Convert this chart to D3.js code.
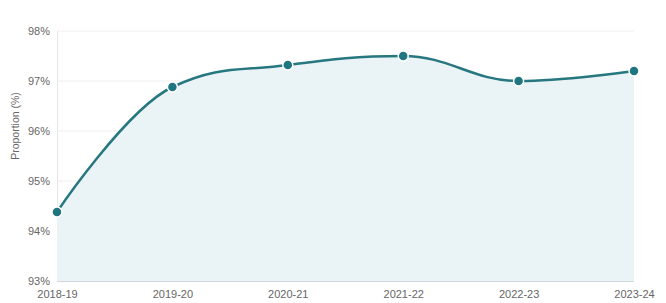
<!DOCTYPE html>
<html>
<head>
<meta charset="utf-8">
<script src="https://cdn.jsdelivr.net/npm/d3@7"></script>
<style>
  body { margin: 0; background: #fff; }
  text { font-family: "Liberation Sans", Arial, sans-serif; }
</style>
</head>
<body>
<div id="chart"></div>
<script>
// data
var years = ["2018-19", "2019-20", "2020-21", "2021-22", "2022-23", "2023-24"];
var proportion = [94.38, 96.88, 97.32, 97.5, 97.0, 97.2];
var yTicks = [93, 94, 95, 96, 97, 98];

var svgWidth = 666;
var svgHeight = 303;

var margin = { top: 31, right: 32, bottom: 22, left: 57 };
var chartWidth = svgWidth - margin.left - margin.right;
var chartHeight = svgHeight - margin.top - margin.bottom;

var svg = d3.select("#chart")
  .append("svg")
  .attr("width", svgWidth)
  .attr("height", svgHeight);

var chartGroup = svg.append("g")
  .attr("transform", `translate(${margin.left}, ${margin.top})`);

var xScale = d3.scalePoint()
  .domain(years)
  .range([0, chartWidth]);

var yScale = d3.scaleLinear()
  .domain([93, 98])
  .range([chartHeight, 0]);

// spline path (same smoothing as the original chart's spline)
function splinePath(pts) {
  var smooth = 1.5, denom = smooth + 1;
  var ctrl = pts.map(function(p, i) {
    var prev = pts[i - 1], next = pts[i + 1];
    if (!prev || !next) return null;
    var lx = (smooth * p[0] + prev[0]) / denom, ly = (smooth * p[1] + prev[1]) / denom;
    var rx = (smooth * p[0] + next[0]) / denom, ry = (smooth * p[1] + next[1]) / denom;
    if (rx !== lx) {
      var corr = ((ry - ly) * (rx - p[0])) / (rx - lx) + p[1] - ry;
      ly += corr; ry += corr;
    }
    if (ly > prev[1] && ly > p[1]) { ly = Math.max(prev[1], p[1]); ry = 2 * p[1] - ly; }
    else if (ly < prev[1] && ly < p[1]) { ly = Math.min(prev[1], p[1]); ry = 2 * p[1] - ly; }
    if (ry > next[1] && ry > p[1]) { ry = Math.max(next[1], p[1]); ly = 2 * p[1] - ry; }
    else if (ry < next[1] && ry < p[1]) { ry = Math.min(next[1], p[1]); ly = 2 * p[1] - ry; }
    return { lx: lx, ly: ly, rx: rx, ry: ry };
  });
  var path = d3.path();
  path.moveTo(pts[0][0], pts[0][1]);
  for (var i = 1; i < pts.length; i++) {
    var a = ctrl[i - 1], b = ctrl[i];
    var c1x = a ? a.rx : pts[i - 1][0], c1y = a ? a.ry : pts[i - 1][1];
    var c2x = b ? b.lx : pts[i][0], c2y = b ? b.ly : pts[i][1];
    path.bezierCurveTo(c1x, c1y, c2x, c2y, pts[i][0], pts[i][1]);
  }
  return path.toString();
}

var points = proportion.map((d, i) => [xScale(years[i]), yScale(d)]);
var linePath = splinePath(points);

// gridlines
chartGroup.append("g")
  .selectAll("line")
  .data(yTicks)
  .enter()
  .append("line")
  .attr("x1", 0)
  .attr("x2", chartWidth)
  .attr("y1", d => yScale(d))
  .attr("y2", d => yScale(d))
  .style("stroke", "#eeeeee")
  .style("stroke-width", 1);

// left vertical line
chartGroup.append("line")
  .attr("x1", 0.5).attr("x2", 0.5)
  .attr("y1", 0).attr("y2", chartHeight)
  .style("stroke", "#e6e6e6");

// area fill
chartGroup.append("path")
  .attr("d", linePath + `L${points[points.length - 1][0]},${chartHeight}L${points[0][0]},${chartHeight}Z`)
  .style("fill", "#eaf4f6");

// line
chartGroup.append("path")
  .attr("d", linePath)
  .style("fill", "none")
  .style("stroke", "#26777f")
  .style("stroke-width", 2.5);

// bottom axis line
chartGroup.append("line")
  .attr("x1", 0).attr("x2", chartWidth)
  .attr("y1", chartHeight + 0.5).attr("y2", chartHeight + 0.5)
  .style("stroke", "#d0d8dc");

// markers
chartGroup.append("g")
  .selectAll("circle")
  .data(proportion)
  .enter()
  .append("circle")
  .attr("cx", (d, i) => xScale(years[i]))
  .attr("cy", d => yScale(d))
  .attr("r", 5)
  .style("fill", "#1f7580")
  .style("stroke", "#ffffff")
  .style("stroke-width", 1.5);

// y labels
var leftAxis = d3.axisLeft(yScale)
  .tickValues(yTicks)
  .tickSize(0)
  .tickPadding(7)
  .tickFormat(d => d + "%");

chartGroup.append("g")
  .call(leftAxis)
  .call(g => g.select(".domain").remove())
  .selectAll("text")
  .style("font-size", "11px")
  .style("fill", "#666666");

// x labels
var bottomAxis = d3.axisBottom(xScale)
  .tickSize(0)
  .tickPadding(9);

chartGroup.append("g")
  .attr("transform", `translate(0, ${chartHeight})`)
  .call(bottomAxis)
  .call(g => g.select(".domain").remove())
  .selectAll("text")
  .style("font-size", "11px")
  .style("fill", "#666666");

// y title
svg.append("text")
  .attr("transform", `translate(19, ${margin.top + chartHeight / 2 - 30}) rotate(-90)`)
  .attr("text-anchor", "middle")
  .style("font-size", "10.5px")
  .style("fill", "#666666")
  .text("Proportion (%)");
</script>
</body>
</html>
